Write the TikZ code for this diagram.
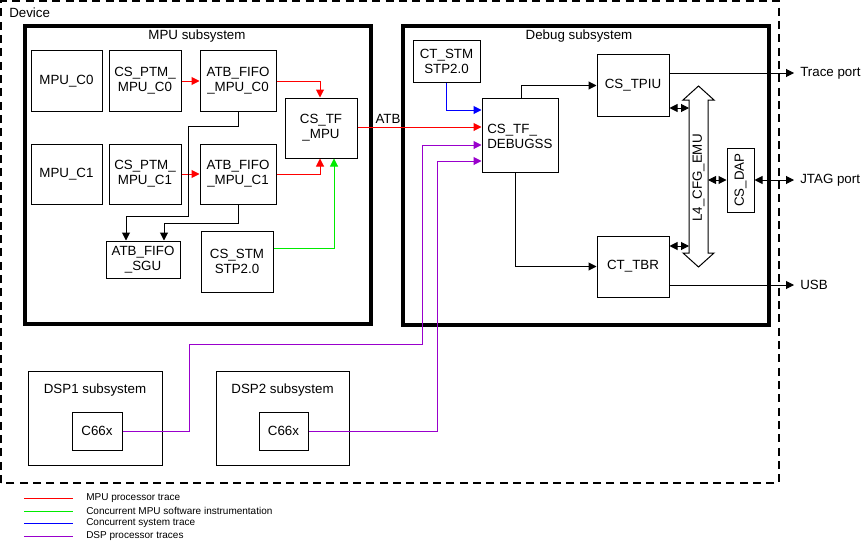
\documentclass[tikz,border=0pt]{standalone}
\usepackage{fontspec}
\setmainfont{Liberation Sans}
\usetikzlibrary{arrows.meta,calc}
\definecolor{tred}{RGB}{255,0,0}
\definecolor{tgreen}{RGB}{0,235,0}
\definecolor{tblue}{RGB}{0,0,255}
\definecolor{tpurple}{RGB}{153,0,204}
\tikzset{
  sz/.style 2 args={minimum width=#1*0.75pt, minimum height=#2*0.75pt},
  box/.style={draw, line width=0.75pt, inner sep=0pt, align=center,
    font=\fontsize{10}{11.25}\selectfont},
  thickbox/.style={draw, line width=3pt},
  lbl/.style={inner sep=0pt, font=\fontsize{10}{11.25}\selectfont},
  leg/.style={inner sep=0pt, anchor=west, font=\fontsize{7.5}{8}\selectfont},
  conn/.style={line width=0.75pt},
  arr/.style={conn, -{Triangle[length=6pt,width=6pt]}},
  dbl/.style={conn, {Triangle[length=6pt,width=6pt]}-{Triangle[length=6pt,width=6pt]}},
}
\begin{document}
\begin{tikzpicture}[x=0.75pt,y=-0.75pt]
\path[use as bounding box, fill=white] (0,0) rectangle (862,542);
% Device
\draw[line width=1pt, dash pattern=on 6pt off 4pt] (1,483) -- (1,1) -- (779,1) -- (779,483) -- cycle;
\node[lbl, anchor=west] (device) at (9,13) {Device};
% MPU subsystem
\draw[thickbox] (25,26) rectangle (371,324);
\node[lbl] (mputitle) at (197,36) {MPU subsystem};
\node[box, sz={71}{60}] (mpuc0) at (66.5,81) {MPU\_C0};
\node[box, sz={72}{60}] (ptm0) at (145,81) {CS\_PTM\_\\MPU\_C0};
\node[box, sz={76}{60}] (fifo0) at (238,81) {ATB\_FIFO\\\_MPU\_C0};
\node[box, sz={71}{60}] (mpuc1) at (66.5,174) {MPU\_C1};
\node[box, sz={72}{60}] (ptm1) at (145,174) {CS\_PTM\_\\MPU\_C1};
\node[box, sz={76}{60}] (fifo1) at (238,174) {ATB\_FIFO\\\_MPU\_C1};
\node[box, sz={72}{60}] (tfmpu) at (321,128) {CS\_TF\\\_MPU};
\node[box, sz={74}{37}] (sgu) at (143,259.5) {ATB\_FIFO\\\_SGU};
\node[box, sz={72}{61}] (stm) at (237,261.5) {CS\_STM\\STP2.0};
% Debug subsystem
\draw[thickbox] (403,26) rectangle (769,325);
\node[lbl] (dbgtitle) at (579,36) {Debug subsystem};
\node[box, sz={67}{41}] (ctstm) at (446.5,61.5) {CT\_STM\\STP2.0};
\node[box, sz={76}{74}] (tfdbg) at (520,135) {};
\node[lbl, anchor=west, align=left] (tfdbgtxt) at (487,136) {CS\_TF\_\\DEBUGSS};
\node[box, sz={72}{61}] (tpiu) at (633,85.5) {CS\_TPIU};
\node[box, sz={72}{61}] (tbr) at (633,266.5) {CT\_TBR};
\node[box, sz={64}{27}, rotate=90] (dap) at (740.5,180) {CS\_DAP};
% L4 double arrow
\draw[line width=0.75pt, fill=white] (698.5,86) -- (714,100) -- (708,100) -- (708,253) -- (714,253)
  -- (698.5,267) -- (683,253) -- (689,253) -- (689,100) -- (683,100) -- cycle;
\node[lbl, rotate=90] (l4) at (698.5,178) {L4\_CFG\_EMU};
\coordinate (l4w) at (689,176);
\coordinate (l4e) at (708,176);
% DSP subsystems
\node[box, sz={134}{94}] (dsp1) at (95,418) {};
\node[lbl] (dsp1t) at (95,390) {DSP1 subsystem};
\node[box, sz={50}{38}] (c66a) at (97,431) {C66x};
\node[box, sz={133}{94}] (dsp2) at (282.5,418) {};
\node[lbl] (dsp2t) at (282.5,390) {DSP2 subsystem};
\node[box, sz={49}{38}] (c66b) at (283.5,431) {C66x};
% External labels
\node[lbl, anchor=west] (trace) at (800,73) {Trace port};
\node[lbl, anchor=west] (jtag) at (800,180) {JTAG port};
\node[lbl, anchor=west] (usb) at (800,285) {USB};
\coordinate (tracetip) at (794,73);
\coordinate (jtagtip) at (794,180);
\coordinate (usbtip) at (794,285);
% Red connectors
\draw[arr, tred] (ptm0.east) -- (fifo0.west);
\draw[arr, tred] (ptm1.east) -- (fifo1.west);
\draw[arr, tred] (fifo0.east) -| ([xshift=-0.75pt]tfmpu.north);
\draw[arr, tred] (fifo1.east) -| ([xshift=-0.75pt]tfmpu.south);
\draw[arr, tred] (tfmpu.east |- 0,127) -- (tfdbg.west |- 0,127);
\node[lbl] (atb) at (388,119) {ATB};
% Green
\draw[arr, tgreen] (stm.east |- 0,248) -| ([xshift=9.75pt]tfmpu.south);
% Black MPU
\draw[arr] (fifo0.south) -- (238,126) -- (188,126) -- (188,216) -- (126,216) -- (sgu.north -| 126,0);
\draw[arr] (fifo1.south) -- (238,223) -- (164,223) -- (sgu.north -| 164,0);
% Blue
\draw[arr, tblue] (ctstm.south) |- (tfdbg.west |- 0,110);
% Purple
\draw[arr, tpurple] (c66a.east) -- (189,431) -- (189,344) -- (422,344) -- (422,145) -- (tfdbg.west |- 0,145);
\draw[arr, tpurple] (c66b.east) -- (437,431) -- (437,161) -- (tfdbg.west |- 0,161);
% Black Debug
\draw[arr] ([xshift=0.75pt]tfdbg.north) |- (tpiu.west);
\draw[arr] ([xshift=-3.75pt]tfdbg.south) |- (tbr.west);
\draw[arr] (tpiu.east |- 0,73) -- (tracetip);
\draw[arr] (tbr.east |- 0,285) -- (usbtip);
\draw[dbl] (dap.south |- 0,180) -- (jtagtip);
\draw[dbl] (tpiu.east |- 0,108) -- (l4w |- 0,108);
\draw[dbl] (tbr.east |- 0,246) -- (l4w |- 0,246);
\draw[dbl] (l4e |- 0,180) -- (dap.north |- 0,180);
% Legend
\coordinate (la1) at (24,498); \coordinate (lb1) at (73,498);
\coordinate (la2) at (24,511); \coordinate (lb2) at (73,511);
\coordinate (la3) at (24,523); \coordinate (lb3) at (73,523);
\coordinate (la4) at (24,536); \coordinate (lb4) at (73,536);
\draw[conn, tred] (la1) -- (lb1);
\draw[conn, tgreen] (la2) -- (lb2);
\draw[conn, tblue] (la3) -- (lb3);
\draw[conn, tpurple] (la4) -- (lb4);
\node[leg] (leg1) at (86,498) {MPU processor trace};
\node[leg] (leg2) at (86,511) {Concurrent MPU software instrumentation};
\node[leg] (leg3) at (86,523) {Concurrent system trace};
\node[leg] (leg4) at (86,536) {DSP processor traces};
\end{tikzpicture}
\end{document}
